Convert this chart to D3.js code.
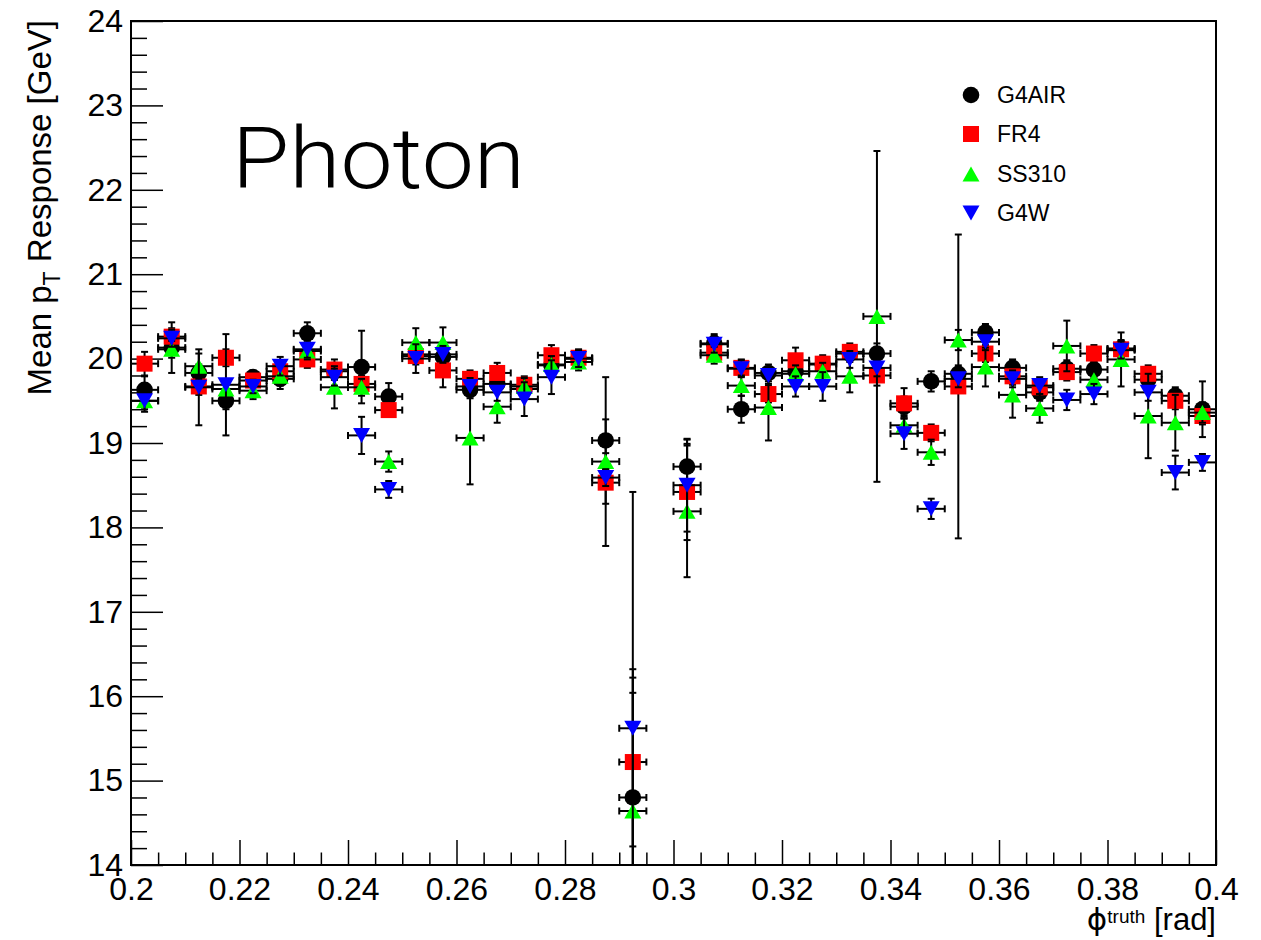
<!DOCTYPE html>
<html>
<head>
<meta charset="utf-8">
<script src="https://cdn.jsdelivr.net/npm/d3@7"></script>
<style>
  html, body { margin: 0; padding: 0; background: #fff; }
  svg { display: block; font-family: "Liberation Sans", Arial, Helvetica, sans-serif; }
</style>
</head>
<body>
<svg id="chart" width="1261" height="940"></svg>
<script>
// ---------------- data ----------------
const phi = [0.2025,0.2075,0.2125,0.2175,0.2225,0.2275,0.2325,0.2375,0.2425,0.2475,
             0.2525,0.2575,0.2625,0.2675,0.2725,0.2775,0.2825,0.2875,0.2925,
             0.3025,0.3075,0.3125,0.3175,0.3225,0.3275,0.3325,0.3375,0.3425,0.3475,
             0.3525,0.3575,0.3625,0.3675,0.3725,0.3775,0.3825,0.3875,0.3925,0.3975];
const binHalfWidth = 0.0025;

const g4airVal = [19.63,20.13,19.83,19.50,19.78,19.76,20.30,19.85,19.90,19.55,
                  20.05,20.02,19.63,19.70,19.64,19.92,20.00,19.03,14.80,
                  18.72,20.18,19.40,19.83,19.85,19.93,20.06,20.06,19.43,19.73,
                  19.82,20.31,19.89,19.60,19.88,19.87,20.12,19.75,19.56,19.40];
const g4airErr = [0.16,0.30,0.10,0.10,0.08,0.08,0.13,0.10,0.43,0.16,
                  0.10,0.10,0.10,0.10,0.08,0.10,0.08,0.75,1.52,
                  0.32,0.11,0.16,0.10,0.10,0.08,0.10,0.12,0.12,0.12,
                  0.10,0.10,0.10,0.10,0.10,0.10,0.10,0.10,0.10,0.33];

const fr4Val = [19.94,20.26,19.67,20.01,19.74,19.85,19.99,19.87,19.70,19.39,
                20.03,19.86,19.76,19.83,19.69,20.04,20.01,18.53,15.22,
                18.42,20.07,19.89,19.58,19.98,19.94,20.08,19.80,19.47,19.12,
                19.67,20.06,19.79,19.66,19.84,20.06,20.11,19.82,19.50,19.32];
const fr4Err = [0.14,0.10,0.10,0.10,0.08,0.10,0.10,0.12,0.10,0.08,
                0.10,0.20,0.10,0.12,0.10,0.12,0.10,0.75,1.00,
                0.57,0.10,0.10,0.10,0.15,0.10,0.10,0.12,0.18,0.10,
                1.80,0.10,0.10,0.10,0.10,0.10,0.10,0.10,0.10,0.10];

const ss310Val = [19.50,20.11,19.91,19.64,19.62,19.79,20.09,19.66,19.66,18.78,
                  20.19,20.19,19.06,19.43,19.67,19.93,19.96,18.78,14.64,
                  18.19,20.04,19.68,19.42,19.82,19.85,19.79,20.50,19.21,18.89,
                  20.22,19.90,19.57,19.41,20.15,19.75,19.99,19.32,19.24,19.36];
const ss310Err = [0.10,0.10,0.15,0.10,0.10,0.15,0.10,0.25,0.10,0.12,
                  0.17,0.18,0.55,0.19,0.10,0.10,0.10,0.10,1.40,
                  0.78,0.10,0.12,0.39,0.10,0.10,0.19,1.96,0.12,0.15,
                  0.12,0.23,0.27,0.17,0.30,0.15,0.32,0.50,0.33,0.12];

const g4wVal = [19.50,20.24,19.66,19.69,19.67,19.91,20.11,19.78,19.09,18.45,
                20.00,20.05,19.67,19.60,19.52,19.78,20.00,18.59,15.62,
                18.50,20.17,19.88,19.80,19.67,19.67,19.99,19.89,19.11,18.22,
                19.76,20.20,19.76,19.68,19.51,19.58,20.10,19.60,18.65,18.77];
const g4wErr = [0.13,0.10,0.45,0.60,0.08,0.11,0.10,0.10,0.22,0.10,
                0.17,0.10,0.10,0.10,0.20,0.20,0.10,0.10,2.80,
                0.55,0.10,0.10,0.10,0.12,0.17,0.10,0.10,0.18,0.12,
                0.10,0.10,0.10,0.10,0.12,0.12,0.10,0.10,0.20,0.10];

const seriesNames = ["G4AIR", "FR4", "SS310", "G4W"];
const xTickValues = [0.2,0.22,0.24,0.26,0.28,0.3,0.32,0.34,0.36,0.38,0.4];
const yTickValues = [14,15,16,17,18,19,20,21,22,23,24];

// ---------------- layout ----------------
const L = 131, R = 1216, T = 21, B = 865;
const svg = d3.select("#chart");
svg.append("rect").attr("width",1261).attr("height",940).attr("fill","#fff");

const x = d3.scaleLinear().domain([0.2, 0.4]).range([L, R]);
const y = d3.scaleLinear().domain([14, 24]).range([B, T]);

svg.append("defs").append("clipPath").attr("id","plotclip")
  .append("rect").attr("x",L).attr("y",T).attr("width",R-L).attr("height",B-T);

// minor ticks
const yMinor = d3.range(14, 24.0001, 0.2).filter(v => Math.abs(v - Math.round(v)) > 1e-6);
const xMinor = d3.range(0.2, 0.40001, 0.005).filter(v => Math.abs(v*50 - Math.round(v*50)) > 1e-6);

const yAxisMinor = d3.axisLeft(y).tickValues(yMinor).tickSizeInner(-16).tickSizeOuter(0).tickFormat("");
const xAxisMinor = d3.axisBottom(x).tickValues(xMinor).tickSizeInner(-12.5).tickSizeOuter(0).tickFormat("");
svg.append("g").attr("transform",`translate(${L},0)`).call(yAxisMinor)
  .call(g => g.select(".domain").remove())
  .selectAll("line").attr("stroke","#000").attr("stroke-width",1.5);
svg.append("g").attr("transform",`translate(0,${B})`).call(xAxisMinor)
  .call(g => g.select(".domain").remove())
  .selectAll("line").attr("stroke","#000").attr("stroke-width",1.5);

const yAxis = d3.axisLeft(y).tickValues(yTickValues).tickSizeInner(-32).tickSizeOuter(0)
  .tickPadding(8).tickFormat(d3.format("d"));
const xAxis = d3.axisBottom(x).tickValues(xTickValues).tickSizeInner(-25).tickSizeOuter(0)
  .tickPadding(12).tickFormat(d => d3.format("")(+d.toFixed(2)));

const gy = svg.append("g").attr("transform",`translate(${L},0)`).call(yAxis);
gy.select(".domain").remove();
gy.selectAll("line").attr("stroke","#000").attr("stroke-width",1.5);
gy.selectAll("text").attr("font-size",32).attr("fill","#000")
  .attr("font-family","'Liberation Sans', Arial, sans-serif");

const gx = svg.append("g").attr("transform",`translate(0,${B})`).call(xAxis);
gx.select(".domain").remove();
gx.selectAll("line").attr("stroke","#000").attr("stroke-width",1.5);
gx.selectAll("text").attr("font-size",32).attr("fill","#000")
  .attr("font-family","'Liberation Sans', Arial, sans-serif");

// frame
svg.append("rect").attr("x",L).attr("y",T).attr("width",R-L).attr("height",B-T)
  .attr("fill","none").attr("stroke","#000").attr("stroke-width",2);

// ---------------- series ----------------
const series = [
  {name: seriesNames[0], vals: g4airVal, errs: g4airErr, color: "#000000", shape: "circle"},
  {name: seriesNames[1], vals: fr4Val,   errs: fr4Err,   color: "#ff0000", shape: "square"},
  {name: seriesNames[2], vals: ss310Val, errs: ss310Err, color: "#00ff00", shape: "up"},
  {name: seriesNames[3], vals: g4wVal,   errs: g4wErr,   color: "#0000ff", shape: "down"}
];

function drawMarker(g, shape, color, cx, cy) {
  if (shape === "circle") {
    g.append("circle").attr("cx",cx).attr("cy",cy).attr("r",8.3).attr("fill",color);
  } else if (shape === "square") {
    g.append("rect").attr("x",cx-8).attr("y",cy-8).attr("width",16).attr("height",16).attr("fill",color);
  } else if (shape === "up") {
    g.append("path").attr("d",`M${cx-8.5},${cy+7.5}L${cx+8.5},${cy+7.5}L${cx},${cy-7.5}Z`).attr("fill",color);
  } else {
    g.append("path").attr("d",`M${cx-8.5},${cy-7.5}L${cx+8.5},${cy-7.5}L${cx},${cy+7.5}Z`).attr("fill",color);
  }
}

const plot = svg.append("g").attr("clip-path","url(#plotclip)");
const cap = 3.5;
series.forEach(s => {
  const g = plot.append("g");
  phi.forEach((p, i) => {
    const v = s.vals[i], e = s.errs[i];
    const cx = x(p), cy = y(v);
    const x0 = x(p - binHalfWidth), x1 = x(p + binHalfWidth);
    const yt = y(v + e), yb = y(v - e);
    const eg = g.append("g").attr("stroke","#000").attr("stroke-width",2).attr("fill","none");
    eg.append("line").attr("x1",x0).attr("x2",x1).attr("y1",cy).attr("y2",cy);
    eg.append("line").attr("x1",x0).attr("x2",x0).attr("y1",cy-cap).attr("y2",cy+cap);
    eg.append("line").attr("x1",x1).attr("x2",x1).attr("y1",cy-cap).attr("y2",cy+cap);
    eg.append("line").attr("x1",cx).attr("x2",cx).attr("y1",yt).attr("y2",yb);
    eg.append("line").attr("x1",cx-cap).attr("x2",cx+cap).attr("y1",yt).attr("y2",yt);
    eg.append("line").attr("x1",cx-cap).attr("x2",cx+cap).attr("y1",yb).attr("y2",yb);
  });
  phi.forEach((p, i) => drawMarker(g, s.shape, s.color, x(p), y(s.vals[i])));
});

// ---------------- legend ----------------
const leg = svg.append("g");
const legY = [95, 134, 174, 213];
series.forEach((s, i) => {
  drawMarker(leg, s.shape, s.color, 971, legY[i]);
  leg.append("text").attr("x",997).attr("y",legY[i]).attr("dy","0.36em")
    .attr("font-size",23).attr("fill","#000").text(s.name);
});

// ---------------- texts ----------------
svg.append("text").attr("x",232).attr("y",188)
  .attr("font-family","Roboto, 'Liberation Sans', Arial, sans-serif")
  .attr("font-weight",300).attr("font-size",86)
  .attr("textLength",293).attr("lengthAdjust","spacingAndGlyphs")
  .attr("fill","#000").text("Photon");

const yt = svg.append("text").attr("transform","translate(51,20) rotate(-90)")
  .attr("text-anchor","end").attr("font-size",33).attr("fill","#000");
yt.append("tspan").text("Mean p");
yt.append("tspan").attr("font-size",23).attr("dy",9).text("T");
yt.append("tspan").attr("dy",-9).text(" Response [GeV]");

const xt = svg.append("text").attr("x",1216).attr("y",930)
  .attr("text-anchor","end").attr("font-size",31).attr("fill","#000");
xt.append("tspan").attr("font-family","'DejaVu Sans', sans-serif").text("\u03D5");
xt.append("tspan").attr("font-size",19).attr("dy",-7).text("truth");
xt.append("tspan").attr("dy",7).text(" [rad]");
</script>
</body>
</html>
